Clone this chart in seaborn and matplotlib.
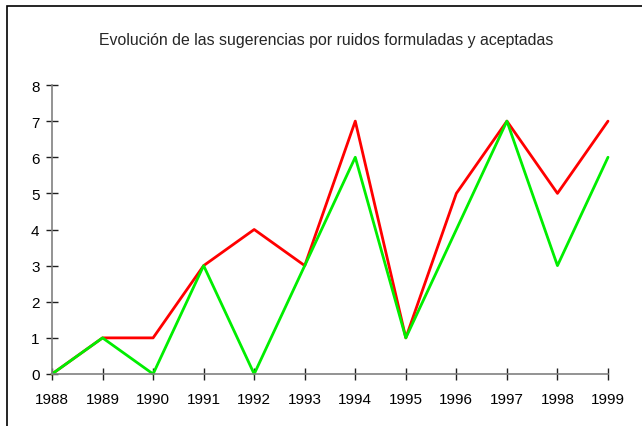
import matplotlib
matplotlib.use('Agg')
import matplotlib.pyplot as plt
import matplotlib.patches as patches
import pandas as pd
import seaborn as sns

# --- Data ---
years = [1988, 1989, 1990, 1991, 1992, 1993, 1994, 1995, 1996, 1997, 1998, 1999]
formuladas = [0, 1, 1, 3, 4, 3, 7, 1, 5, 7, 5, 7]
aceptadas = [0, 1, 0, 3, 0, 3, 6, 1, 4, 7, 3, 6]

df = pd.DataFrame({'year': years, 'formuladas': formuladas, 'aceptadas': aceptadas})

sns.set_style('white')
plt.rcParams['font.family'] = ['Liberation Sans', 'DejaVu Sans']

fig = plt.figure(figsize=(6.42, 4.27), dpi=100)
ax = fig.add_axes([52 / 642, 1 - 375 / 427, (608 - 52) / 642, (375 - 86) / 427])

sns.lineplot(data=df, x='year', y='formuladas', color='#ff0000', lw=2, ax=ax)
sns.lineplot(data=df, x='year', y='aceptadas', color='#00ee00', lw=2, ax=ax)

ax.set_xlim(1988, 1999)
ax.set_ylim(0, 8)
ax.set_xticks(years)
ax.set_yticks(range(0, 9))
ax.set_xlabel('')
ax.set_ylabel('')
for side in ['top', 'right']:
    ax.spines[side].set_visible(False)
for side in ['left', 'bottom']:
    ax.spines[side].set_color('#808080')
    ax.spines[side].set_linewidth(1.2)
ax.tick_params(bottom=True, left=True, direction='inout', length=8, width=1,
               color='#202020', labelsize=11, labelcolor='#000000', pad=5)
ax.tick_params(axis='x', pad=9)
for l in ax.get_lines():
    l.set_clip_on(False)

fig.text(326 / 642, 1 - 40 / 427, 'Evolución de las sugerencias por ruidos formuladas y aceptadas',
         ha='center', va='center', fontsize=11.4)

# outer frame (only top and left edges fall inside the image)
frame = patches.Rectangle((7 / 642, -0.5), 2, (420 / 427) + 0.5, transform=fig.transFigure,
                          fill=False, edgecolor='black', lw=1.2)
fig.patches.append(frame)

fig.savefig('out.png', dpi=100)
